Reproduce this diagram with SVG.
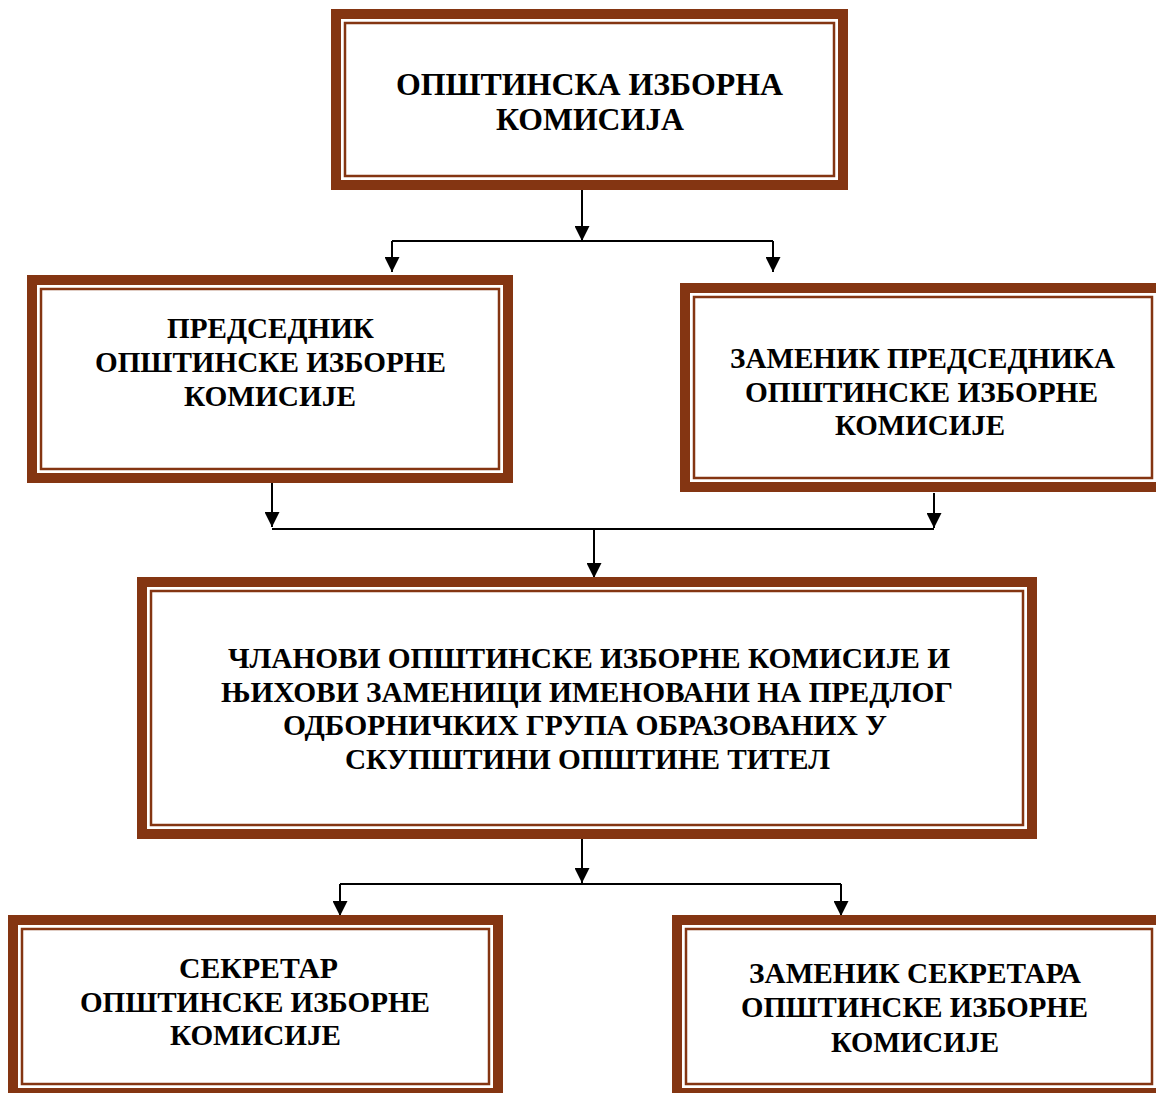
<svg xmlns="http://www.w3.org/2000/svg" width="1156" height="1093" viewBox="0 0 1156 1093">
  <style>
    .band { fill: none; stroke: #843512; stroke-width: 10; }
    .thin { fill: none; stroke: #843512; stroke-width: 2.5; }
    .bg { fill: #ffffff; }
    .lbl { font-family: "Liberation Serif", "Times New Roman", serif; font-weight: bold; font-size: 30px; fill: #000000; text-anchor: middle; }
    .big { font-size: 32px; }
    .conn { fill: none; stroke: #000000; stroke-width: 2; }
  </style>
  <defs>
    <marker id="arrow" markerUnits="userSpaceOnUse" markerWidth="15" markerHeight="15" viewBox="0 0 15 15" refX="15" refY="7.5" orient="auto">
      <path d="M0,0 L15,7.5 L0,15 z" fill="#000000"/>
    </marker>
  </defs>
  <rect x="0" y="0" width="1156" height="1093" fill="#ffffff"/>

  <g id="connectors">
    <path class="conn" d="M582,190 V241" marker-end="url(#arrow)"/>
    <path class="conn" d="M392,241 H773"/>
    <path class="conn" d="M392,241 V272" marker-end="url(#arrow)"/>
    <path class="conn" d="M773,241 V272" marker-end="url(#arrow)"/>
    <path class="conn" d="M272,483 V527" marker-end="url(#arrow)"/>
    <path class="conn" d="M934,493 V528" marker-end="url(#arrow)"/>
    <path class="conn" d="M272,529 H934"/>
    <path class="conn" d="M594,529 V578" marker-end="url(#arrow)"/>
    <path class="conn" d="M582,839 V883" marker-end="url(#arrow)"/>
    <path class="conn" d="M340,884 H841"/>
    <path class="conn" d="M340,884 V916" marker-end="url(#arrow)"/>
    <path class="conn" d="M841,884 V916" marker-end="url(#arrow)"/>
  </g>

  <g id="node-oik">
    <rect class="bg" x="336" y="14" width="507" height="171"/>
    <rect class="band" x="336" y="14" width="507" height="171"/>
    <rect class="thin" x="345" y="23" width="489" height="153"/>
    <text class="lbl big" x="589.5" y="95" textLength="387" lengthAdjust="spacingAndGlyphs">ОПШТИНСКА ИЗБОРНА</text>
    <text class="lbl big" x="590" y="130" textLength="188" lengthAdjust="spacingAndGlyphs">КОМИСИЈА</text>
  </g>

  <g id="node-predsednik">
    <rect class="bg" x="32" y="280" width="476" height="198"/>
    <rect class="band" x="32" y="280" width="476" height="198"/>
    <rect class="thin" x="41" y="289" width="458" height="180"/>
    <text class="lbl" x="270.5" y="338" textLength="207" lengthAdjust="spacingAndGlyphs">ПРЕДСЕДНИК</text>
    <text class="lbl" x="270.5" y="372" textLength="351" lengthAdjust="spacingAndGlyphs">ОПШТИНСКЕ ИЗБОРНЕ</text>
    <text class="lbl" x="270" y="406" textLength="172" lengthAdjust="spacingAndGlyphs">КОМИСИЈЕ</text>
  </g>

  <g id="node-zamenik-predsednika">
    <rect class="bg" x="685" y="288" width="476" height="199"/>
    <rect class="band" x="685" y="288" width="476" height="199"/>
    <rect class="thin" x="694" y="297" width="458" height="181"/>
    <text class="lbl" x="922.5" y="368" textLength="385" lengthAdjust="spacingAndGlyphs">ЗАМЕНИК ПРЕДСЕДНИКА</text>
    <text class="lbl" x="921.5" y="402" textLength="353" lengthAdjust="spacingAndGlyphs">ОПШТИНСКЕ ИЗБОРНЕ</text>
    <text class="lbl" x="920" y="435" textLength="170" lengthAdjust="spacingAndGlyphs">КОМИСИЈЕ</text>
  </g>

  <g id="node-clanovi">
    <rect class="bg" x="142" y="582" width="890" height="252"/>
    <rect class="band" x="142" y="582" width="890" height="252"/>
    <rect class="thin" x="151" y="591" width="872" height="234"/>
    <text class="lbl" x="589" y="668" textLength="722" lengthAdjust="spacingAndGlyphs">ЧЛАНОВИ ОПШТИНСКЕ ИЗБОРНЕ КОМИСИЈЕ И</text>
    <text class="lbl" x="587" y="702" textLength="732" lengthAdjust="spacingAndGlyphs">ЊИХОВИ ЗАМЕНИЦИ ИМЕНОВАНИ НА ПРЕДЛОГ</text>
    <text class="lbl" x="585" y="735" textLength="604" lengthAdjust="spacingAndGlyphs">ОДБОРНИЧКИХ ГРУПА ОБРАЗОВАНИХ У</text>
    <text class="lbl" x="587.5" y="769" textLength="485" lengthAdjust="spacingAndGlyphs">СКУПШТИНИ ОПШТИНЕ ТИТЕЛ</text>
  </g>

  <g id="node-sekretar">
    <rect class="bg" x="13" y="920" width="485" height="173"/>
    <rect class="band" x="13" y="920" width="485" height="173"/>
    <rect class="thin" x="22" y="929" width="467" height="155"/>
    <text class="lbl" x="258.5" y="978" textLength="159" lengthAdjust="spacingAndGlyphs">СЕКРЕТАР</text>
    <text class="lbl" x="255" y="1012" textLength="350" lengthAdjust="spacingAndGlyphs">ОПШТИНСКЕ ИЗБОРНЕ</text>
    <text class="lbl" x="255.5" y="1045" textLength="171" lengthAdjust="spacingAndGlyphs">КОМИСИЈЕ</text>
  </g>

  <g id="node-zamenik-sekretara">
    <rect class="bg" x="677" y="920" width="484" height="173"/>
    <rect class="band" x="677" y="920" width="484" height="173"/>
    <rect class="thin" x="686" y="929" width="466" height="155"/>
    <text class="lbl" x="915" y="983" textLength="332" lengthAdjust="spacingAndGlyphs">ЗАМЕНИК СЕКРЕТАРА</text>
    <text class="lbl" x="914.5" y="1017" textLength="347" lengthAdjust="spacingAndGlyphs">ОПШТИНСКЕ ИЗБОРНЕ</text>
    <text class="lbl" x="915" y="1052" textLength="168" lengthAdjust="spacingAndGlyphs">КОМИСИЈЕ</text>
  </g>
</svg>
